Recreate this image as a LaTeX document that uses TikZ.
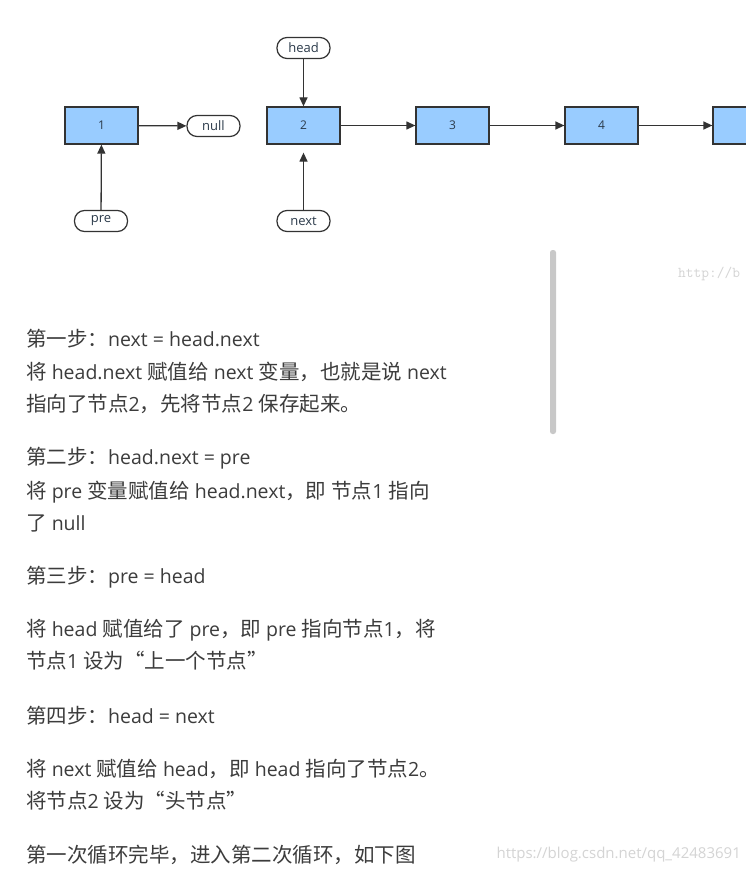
\documentclass[tikz,border=0pt]{standalone}
\usepackage{fontspec}
\setmainfont{Open Sans}
\newfontfamily\cjk{Noto Sans CJK SC}
\newcommand{\zh}[1]{{\cjk\fontsize{20.5pt}{22pt}\selectfont #1}}
\usetikzlibrary{arrows.meta}
\definecolor{boxfill}{HTML}{99CCFF}
\definecolor{linecol}{HTML}{333333}
\definecolor{txt}{HTML}{3C3C3C}
\definecolor{lbl}{HTML}{2B3A4A}
\definecolor{bar}{HTML}{C8C8C8}
\definecolor{wm}{HTML}{D4D4D4}
\tikzset{
  listnode/.style={draw=linecol, line width=1.3pt, fill=boxfill, minimum width=73pt, minimum height=37pt, inner sep=0pt, text=lbl, font=\fontsize{12pt}{14pt}\selectfont},
  pill/.style={draw=linecol, line width=1.2pt, rounded corners=10pt, fill=white, minimum width=53pt, minimum height=21pt, inner sep=0pt, text=lbl, font=\fontsize{13pt}{15pt}\selectfont},
  conn/.style={draw=linecol, line width=1.3pt, -{Triangle[length=9pt,width=8pt]}},
  para/.style={anchor=west, inner sep=0pt, text=txt, font=\fontsize{19.5pt}{22pt}\selectfont}
}
\begin{document}
\begin{tikzpicture}[x=1pt,y=-1pt]
\useasboundingbox[fill=white] (0,0) rectangle (746,872);
% list nodes
\node[listnode] (n1) at (101.5,125.5) {1};
\node[listnode] (n2) at (303.5,125.5) {2};
\node[listnode] (n3) at (452.5,125.5) {3};
\node[listnode] (n4) at (601.5,125.5) {4};
\begin{scope}
\clip (0,0) rectangle (746,872);
\node[listnode] (n5) at (749.5,125.5) {};
\end{scope}
% pills
\node[pill] (null) at (213.5,126) {null};
\node[pill] (head) at (303.5,48) {head};
\node[pill] (pre) at (101,221) {pre};
\node[pill] (next) at (303.5,221) {next};
% connectors
\draw[conn] (n1) -- (null);
\draw[conn] (head) -- (n2);
\draw[conn] (pre) -- (n1);
\draw[conn, shorten >=8pt] (next) -- (n2);
\draw[conn] (n2) -- (n3);
\draw[conn] (n3) -- (n4);
\draw[conn] (n4) -- (n5);
% scrollbar
\fill[bar, rounded corners=2.5pt] (550,250) rectangle (556,434);
% watermarks
\node[anchor=west, inner sep=0pt, text=wm, font=\ttfamily\fontsize{15pt}{17pt}\selectfont] (wm1) at (678,274) {http://b};
\node[anchor=east, inner sep=0pt, text=wm, font=\fontsize{15pt}{17pt}\selectfont] (wm2) at (741,855) {https://blog.csdn.net/qq\_42483691};
% paragraphs
\node[para] (l1) at (26,339) {\zh{第一步：}next = head.next};
\node[para] (l2) at (26,372) {\zh{将} head.next \zh{赋值给} next \zh{变量，也就是说} next};
\node[para] (l3) at (26,404) {\zh{指向了节点}2\zh{，先将节点}2 \zh{保存起来。}};
\node[para] (l4) at (26,458) {\zh{第二步：}head.next = pre};
\node[para] (l5) at (26,492) {\zh{将} pre \zh{变量赋值给} head.next\zh{，即} \zh{节点}1 \zh{指向}};
\node[para] (l6) at (26,523) {\zh{了} null};
\node[para] (l7) at (26,577) {\zh{第三步：}pre = head};
\node[para] (l8) at (26,630) {\zh{将} head \zh{赋值给了} pre\zh{，即} pre \zh{指向节点}1\zh{，将}};
\node[para] (l9) at (26,661) {\zh{节点}1 \zh{设为“上一个节点”}};
\node[para] (l10) at (26,716) {\zh{第四步：}head = next};
\node[para] (l11) at (26,769) {\zh{将} next \zh{赋值给} head\zh{，即} head \zh{指向了节点}2\zh{。}};
\node[para] (l12) at (26,801) {\zh{将节点}2 \zh{设为“头节点”}};
\node[para] (l13) at (26,855) {\zh{第一次循环完毕，进入第二次循环，如下图}};
\end{tikzpicture}
\end{document}
